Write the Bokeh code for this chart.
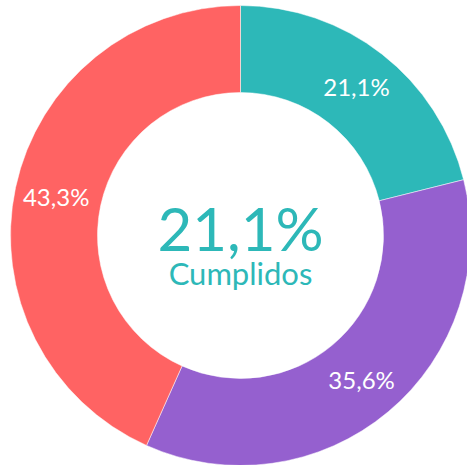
import math
from bokeh.plotting import figure
from bokeh.models import Range1d, ColumnDataSource
from bokeh.core.properties import value
from bokeh.embed import file_html
from bokeh.resources import INLINE

categories = ["Cumplidos", "En proceso", "Pendientes"]
values = [21.1, 35.6, 43.3]
labels = ["21,1%", "35,6%", "43,3%"]
colors = ["#2DB8B8", "#9560CF", "#FF6363"]
center_value = "21,1%"
center_label = "Cumplidos"

W, H = 467, 465
cx, cy = 240, H - 235
r_out, r_in = 230, 143
FONT = "Lato"

total = sum(values)
starts, ends, lx, ly = [], [], [], []
acc = 0.0
for v in values:
    t1 = acc / total * 2 * math.pi
    acc += v
    t2 = acc / total * 2 * math.pi
    starts.append(math.pi / 2 - t2)
    ends.append(math.pi / 2 - t1)
    tm = (t1 + t2) / 2
    rm = (r_out + r_in) / 2 + 2
    lx.append(cx + rm * math.sin(tm))
    ly.append(cy + rm * math.cos(tm))

src = ColumnDataSource(dict(start=starts, end=ends, color=colors, lx=lx, ly=ly, label=labels))

p = figure(width=W, height=H, output_backend="svg", toolbar_location=None,
           x_range=Range1d(0, W), y_range=Range1d(0, H), min_border=0)
p.axis.visible = False
p.grid.visible = False
p.outline_line_color = None
p.background_fill_color = "white"

p.annular_wedge(x=cx, y=cy, inner_radius=r_in, outer_radius=r_out,
                start_angle="start", end_angle="end", color="color",
                line_color="white", line_width=0.5, source=src)

p.text(x="lx", y="ly", text="label", source=src, text_color="white",
       text_font=value(FONT), text_font_size="24px",
       text_align="center", text_baseline="middle")

p.text(x=[cx], y=[H - 227], text=[center_value], text_color=colors[0],
       text_font=value(FONT), text_font_size="60px",
       text_align="center", text_baseline="alphabetic")
p.text(x=[cx], y=[H - 272], text=[center_label], text_color=colors[0],
       text_font=value(FONT), text_font_size="31px",
       text_align="center", text_baseline="alphabetic")

open("out.html", "w").write(file_html(p, INLINE))
